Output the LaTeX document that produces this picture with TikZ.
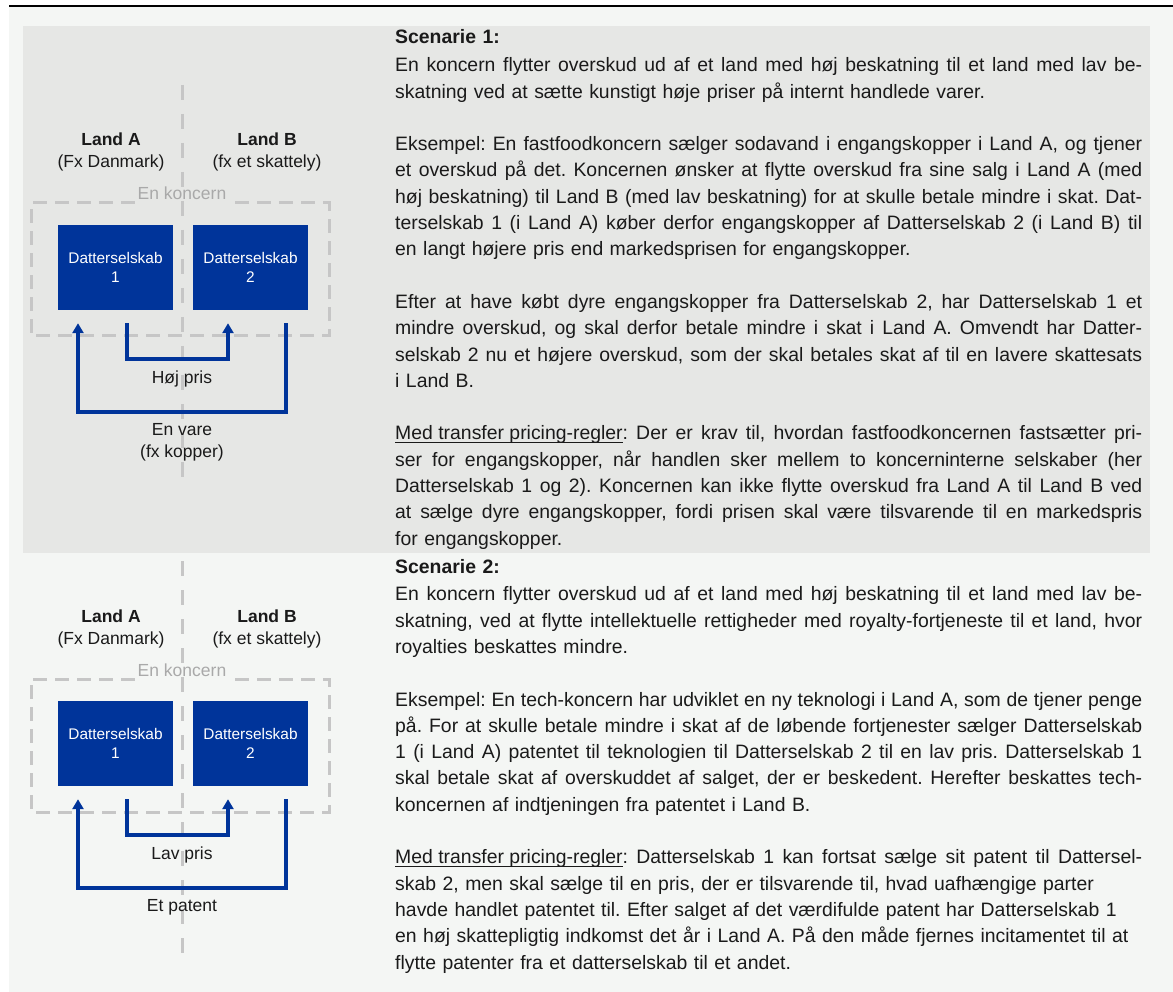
\documentclass[tikz,border=0pt]{standalone}
\usepackage{fontspec}
\setmainfont{Liberation Sans}
\usepackage{xcolor}
\usepackage{tikz}
\usetikzlibrary{calc,arrows.meta}
\frenchspacing
\definecolor{text}{HTML}{1A1A1A}
\definecolor{page}{HTML}{F4F6F4}
\definecolor{panel}{HTML}{E6E7E5}
\definecolor{navy}{HTML}{00349A}
\definecolor{divgrey}{HTML}{C6C6C6}
\definecolor{faint}{HTML}{A9A9A9}
\newdimen\txtw \txtw=747pt
\newcommand{\jl}[1]{\leavevmode\hbox to\txtw{\spaceskip=.278em plus .8em minus .09em\relax #1}}
\newcommand{\ul}[1]{\setbox0\hbox{#1}\rlap{\rule[-3.5pt]{\wd0}{1.5pt}}\box0}
\tikzset{
  divider/.style={draw=divgrey, line width=3pt, dash pattern=on 15pt off 14pt},
  grp/.style={draw=divgrey, line width=3pt, dash pattern=on 14pt off 8pt},
  datter/.style={fill=navy, text=white, minimum width=115pt, minimum height=85pt,
    inner sep=0pt, align=center, font=\fontsize{15.4}{19}\selectfont},
  flow/.style={draw=navy, line width=3.5pt, -{Triangle[width=11pt,length=10pt]}},
  labd/.style={text=text, align=center, anchor=base, font=\fontsize{17.5}{22}\selectfont},
  labk/.style={text=faint, anchor=base, inner xsep=3pt, font=\fontsize{17.5}{22}\selectfont},
  body/.style={text=text, anchor=base west, align=left, text width=747pt, inner sep=0pt,
    font=\fontsize{19.4}{26.3}\selectfont}
}

\begin{document}
\begin{tikzpicture}[x=1pt, y=-1pt]
  \useasboundingbox (0,0) rectangle (1173,992);
  \fill[page] (9,7) rectangle (1173,992);
  \fill[panel] (23,26) rectangle (1150,553);
  \draw[line width=2pt] (9,6) -- (1173,6);

  % scenario 1 diagram
  \draw[divider] (182,85) -- (182,485);
  \node[labd] (landA1) at (111,168) {\textbf{Land A}\\(Fx Danmark)};
  \node[labd] (landB1) at (267,168) {\textbf{Land B}\\(fx et skattely)};
  \node[labk] (grp1) at (182,200) {En koncern};
  \coordinate (gtop1) at (0,203);
  \draw[grp] (grp1.west |- gtop1) -- (31,203) -- (31,336) -- (329,336) -- (329,203) -- (grp1.east |- gtop1);
  \node[datter] (dA1) at (115.5,267.5) {Datterselskab\\1};
  \node[datter] (dB1) at (250.5,267.5) {Datterselskab\\2};
  \draw[flow] ($(dA1.south)+(11.5,13)$) -- ++(0,36) -| ($(dB1.south)+(-22.5,13)$);
  \draw[flow] ($(dB1.south)+(35.5,13)$) -- ++(0,89) -| ($(dA1.south)+(-37.5,13)$);
  \node[labd] (pris1) at (182,383) {Høj pris};
  \node[labd] (vare1) at (182,457) {En vare\\(fx kopper)};

  % scenario 2 diagram
  \draw[divider] (182,561) -- (182,961);
  \node[labd] (landA2) at (111,644) {\textbf{Land A}\\(Fx Danmark)};
  \node[labd] (landB2) at (267,644) {\textbf{Land B}\\(fx et skattely)};
  \node[labk] (grp2) at (182,676) {En koncern};
  \coordinate (gtop2) at (0,679);
  \draw[grp] (grp2.west |- gtop2) -- (31,679) -- (31,812) -- (329,812) -- (329,679) -- (grp2.east |- gtop2);
  \node[datter] (dA2) at (115.5,743.5) {Datterselskab\\1};
  \node[datter] (dB2) at (250.5,743.5) {Datterselskab\\2};
  \draw[flow] ($(dA2.south)+(11.5,13)$) -- ++(0,36) -| ($(dB2.south)+(-22.5,13)$);
  \draw[flow] ($(dB2.south)+(35.5,13)$) -- ++(0,89) -| ($(dA2.south)+(-37.5,13)$);
  \node[labd] (pris2) at (182,859) {Lav pris};
  \node[labd] (patent2) at (182,911) {Et patent};

  \node[body] (scen1) at (395,44) {%
    \textbf{Scenarie 1:}\\[1.5pt]
    \jl{En koncern flytter overskud ud af et land med høj beskatning til et land med lav be-}\\
    skatning ved at sætte kunstigt høje priser på internt handlede varer.\\[26.3pt]
    \jl{Eksempel: En fastfoodkoncern sælger sodavand i engangskopper i Land A, og tjener}\\
    \jl{et overskud på det. Koncernen ønsker at flytte overskud fra sine salg i Land A (med}\\
    \jl{høj beskatning) til Land B (med lav beskatning) for at skulle betale mindre i skat. Dat-}\\
    \jl{terselskab 1 (i Land A) køber derfor engangskopper af Datterselskab 2 (i Land B) til}\\
    en langt højere pris end markedsprisen for engangskopper.\\[26.3pt]
    \jl{Efter at have købt dyre engangskopper fra Datterselskab 2, har Datterselskab 1 et}\\
    \jl{mindre overskud, og skal derfor betale mindre i skat i Land A. Omvendt har Datter-}\\
    \jl{selskab 2 nu et højere overskud, som der skal betales skat af til en lavere skattesats}\\
    i Land B.\\[26.3pt]
    \jl{\ul{Med transfer pricing-regler}: Der er krav til, hvordan fastfoodkoncernen fastsætter pri-}\\
    \jl{ser for engangskopper, når handlen sker mellem to koncerninterne selskaber (her}\\
    \jl{Datterselskab 1 og 2). Koncernen kan ikke flytte overskud fra Land A til Land B ved}\\
    \jl{at sælge dyre engangskopper, fordi prisen skal være tilsvarende til en markedspris}\\
    for engangskopper.};

  \node[body] (scen2) at (395,573) {%
    \textbf{Scenarie 2:}\\[1.5pt]
    \jl{En koncern flytter overskud ud af et land med høj beskatning til et land med lav be-}\\
    \jl{skatning, ved at flytte intellektuelle rettigheder med royalty-fortjeneste til et land, hvor}\\
    royalties beskattes mindre.\\[26.3pt]
    \jl{Eksempel: En tech-koncern har udviklet en ny teknologi i Land A, som de tjener penge}\\
    \jl{på. For at skulle betale mindre i skat af de løbende fortjenester sælger Datterselskab}\\
    \jl{1 (i Land A) patentet til teknologien til Datterselskab 2 til en lav pris. Datterselskab 1}\\
    \jl{skal betale skat af overskuddet af salget, der er beskedent. Herefter beskattes tech-}\\
    koncernen af indtjeningen fra patentet i Land B.\\[26.3pt]
    \jl{\ul{Med transfer pricing-regler}: Datterselskab 1 kan fortsat sælge sit patent til Dattersel-}\\
    skab 2, men skal sælge til en pris, der er tilsvarende til, hvad uafhængige parter\\
    havde handlet patentet til. Efter salget af det værdifulde patent har Datterselskab 1\\
    en høj skattepligtig indkomst det år i Land A. På den måde fjernes incitamentet til at\\
    flytte patenter fra et datterselskab til et andet.};
\end{tikzpicture}
\end{document}
